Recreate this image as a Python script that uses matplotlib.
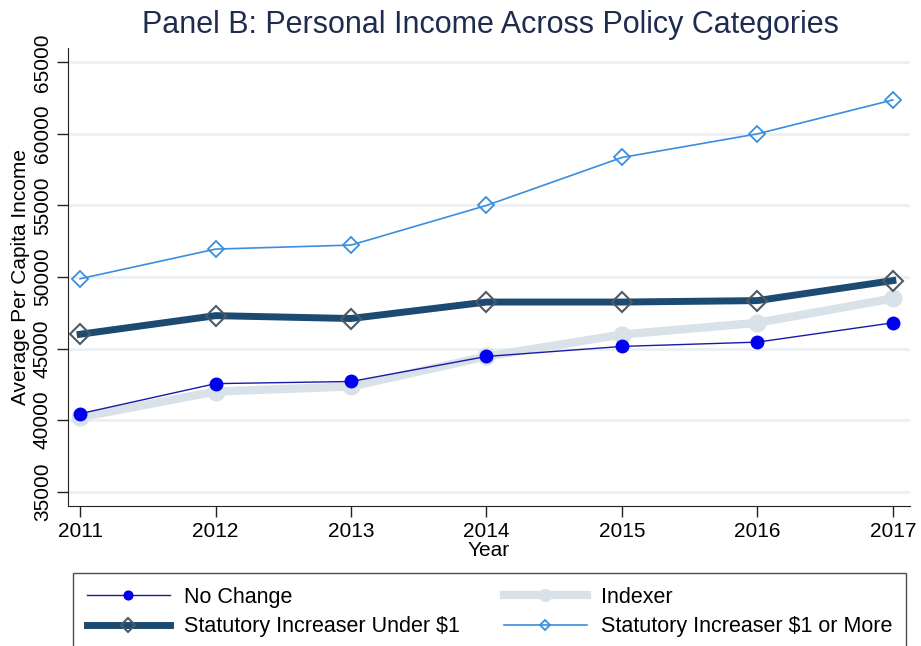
import matplotlib.pyplot as plt
import numpy as np

plt.rcParams["font.family"] = ["Liberation Sans", "DejaVu Sans"]

years = [2011, 2012, 2013, 2014, 2015, 2016, 2017]
no_change = [40450, 42550, 42700, 44450, 45150, 45450, 46800]
indexer = [40200, 42000, 42350, 44450, 45980, 46800, 48500]
under_1 = [46000, 47300, 47100, 48250, 48250, 48350, 49750]
one_or_more = [49880, 51950, 52230, 55000, 58350, 60000, 62370]

y_ticks = [35000, 40000, 45000, 50000, 55000, 60000, 65000]

fig = plt.figure(figsize=(9.21, 6.46), dpi=100)
ax = fig.add_axes([0.0738, 0.2167, 0.914, 0.709])

ax.plot(years, indexer, color="#d8e2e8", lw=6, marker="o", ms=12,
        mfc="#d8e2e8", mec="#d8e2e8", label="Indexer", zorder=3)
ax.plot(years, no_change, color="#1a1aa6", lw=1, marker="o", ms=9,
        mfc="#0000f0", mec="#0000f0", label="No Change", zorder=4)
ax.plot(years, under_1, color="#1c4a70", lw=5, marker="D", ms=10,
        mfc="none", mec="#4d5a66", mew=1.5, label="Statutory Increaser Under $1", zorder=5)
ax.plot(years, one_or_more, color="#3a8ee0", lw=1.2, marker="D", ms=8,
        mfc="none", mec="#3a8ee0", mew=1.3, label="Statutory Increaser $1 or More", zorder=5)

ax.set_xlim(2010.91, 2017.125)
ax.set_ylim(34000, 66000)
ax.set_xticks(years)
ax.set_yticks(y_ticks)
ax.tick_params(axis="both", labelsize=15, length=8, width=1, colors="#222222",
               labelcolor="black", direction="out")
for lbl in ax.get_yticklabels():
    lbl.set_rotation(90)
    lbl.set_va("center")
ax.yaxis.grid(True, color="#edf0f2", lw=2)
ax.set_axisbelow(True)
for side in ["top", "right"]:
    ax.spines[side].set_visible(False)
ax.spines["left"].set_color("#222222")
ax.spines["bottom"].set_color("#222222")

ax.set_xlabel("Year", fontsize=15, labelpad=0)
ax.set_ylabel("Average Per Capita Income", fontsize=15, labelpad=2)
fig.text(0.532, 0.962, "Panel B: Personal Income Across Policy Categories",
         ha="center", va="center", fontsize=22, color="#1e2d4f")

handles, labels = ax.get_legend_handles_labels()
# rows: No Change | Indexer ; Under $1 | $1 or More (legend fills by column)
order = [1, 2, 0, 3]
leg = fig.legend([handles[i] for i in order], [labels[i] for i in order],
                 loc="upper left", bbox_to_anchor=(0.0793, 0.113),
                 ncol=2, fontsize=15.5, frameon=True,
                 fancybox=False, edgecolor="#222222", handlelength=3.85,
                 handletextpad=0.65, borderaxespad=0, borderpad=0.65,
                 columnspacing=2.05, labelspacing=0.38, markerscale=0.7)
leg.get_frame().set_linewidth(1)

fig.savefig("out.png", dpi=100)
